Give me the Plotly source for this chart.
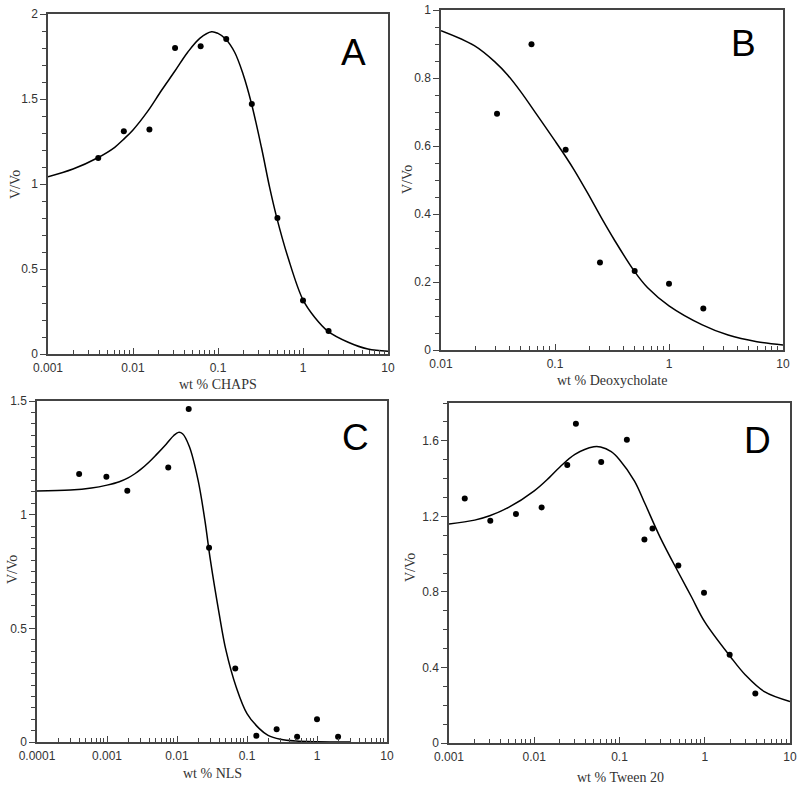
import plotly.graph_objects as go

W, H = 800, 787

# ---------------- data ----------------
# Panel A: CHAPS
a_x = [0.0039, 0.0078, 0.0156, 0.03125, 0.0625, 0.125, 0.25, 0.5, 1.0, 2.0]
a_y = [1.153, 1.31, 1.32, 1.80, 1.81, 1.853, 1.47, 0.80, 0.314, 0.135]
a_fit_x = [0.001, 0.00197, 0.0038, 0.0061, 0.0076, 0.01, 0.015, 0.0216, 0.031, 0.044, 0.061, 0.084,
           0.1, 0.123, 0.157, 0.197, 0.247, 0.324, 0.405, 0.49, 0.665, 1.0, 1.37, 1.97, 3.4, 5.8, 10.0]
a_fit_y = [1.043, 1.088, 1.153, 1.216, 1.259, 1.318, 1.43, 1.55, 1.663, 1.775, 1.857, 1.896,
           1.886, 1.853, 1.775, 1.647, 1.475, 1.216, 0.98, 0.804, 0.569, 0.318, 0.216, 0.133, 0.069, 0.029, 0.016]

# Panel B: Deoxycholate
b_x = [0.031, 0.0622, 0.124, 0.248, 0.5, 1.0, 2.0]
b_y = [0.695, 0.899, 0.589, 0.257, 0.232, 0.195, 0.122]
b_fit_x = [0.01, 0.0196, 0.03, 0.0384, 0.05, 0.07, 0.1, 0.125, 0.147, 0.193, 0.254, 0.33, 0.496, 0.65,
           1.0, 1.96, 3.3, 5.9, 10.0]
b_fit_y = [0.939, 0.895, 0.846, 0.809, 0.76, 0.69, 0.615, 0.567, 0.53, 0.462, 0.39, 0.325, 0.232, 0.183,
           0.13, 0.074, 0.044, 0.0245, 0.015]

# Panel C: NLS
c_x = [0.0004, 0.00098, 0.00195, 0.0075, 0.0147, 0.0287, 0.068, 0.136, 0.265, 0.52, 1.0, 2.0]
c_y = [1.179, 1.167, 1.105, 1.208, 1.465, 0.854, 0.323, 0.028, 0.056, 0.0235, 0.10, 0.0235]
c_fit_x = [0.0001, 0.0003, 0.0006, 0.001, 0.0015, 0.002, 0.0025, 0.003, 0.004, 0.005, 0.007, 0.009,
           0.0105, 0.012, 0.015, 0.02, 0.025, 0.03, 0.04, 0.05, 0.07, 0.1, 0.15, 0.2, 0.3, 0.5, 1.0, 3.0]
c_fit_y = [1.104, 1.108, 1.117, 1.13, 1.145, 1.162, 1.18, 1.198, 1.232, 1.262, 1.31, 1.348,
           1.362, 1.356, 1.30, 1.152, 0.976, 0.80, 0.565, 0.404, 0.242, 0.125, 0.059, 0.029, 0.012, 0.004, 0.001, 0.0]

# Panel D: Tween 20
d_x = [0.00153, 0.00305, 0.0061, 0.0122, 0.0244, 0.0308, 0.061, 0.122, 0.196, 0.244, 0.49, 0.98, 1.96, 3.92]
d_y = [1.294, 1.177, 1.212, 1.247, 1.472, 1.69, 1.488, 1.605, 1.077, 1.135, 0.94, 0.796, 0.467, 0.262]
d_fit_x = [0.001, 0.002, 0.003, 0.005, 0.01, 0.015, 0.02, 0.03, 0.05, 0.06, 0.08, 0.1, 0.15,
           0.2, 0.3, 0.5, 0.7, 1.0, 2.0, 3.0, 5.0, 10.0]
d_fit_y = [1.159, 1.18, 1.203, 1.247, 1.335, 1.405, 1.461, 1.528, 1.568, 1.567, 1.542, 1.50, 1.387,
           1.265, 1.089, 0.896, 0.773, 0.641, 0.457, 0.36, 0.272, 0.22]

log_tick_vals = [0.0001, 0.001, 0.01, 0.1, 1, 10]
log_tick_text = ["0.0001", "0.001", "0.01", "0.1", "1", "10"]

panels = [
    # letter, xs, ys, fx, fy, xrange(log), yrange, ydtick, yminor, xtitle, domain px (l, r, t, b)
    ("A", a_x, a_y, a_fit_x, a_fit_y, (-3, 1), (0, 2), 0.5, 0.1, "wt % CHAPS", (48, 388, 14, 354)),
    ("B", b_x, b_y, b_fit_x, b_fit_y, (-2, 1), (0, 1), 0.2, 0.05, "wt % Deoxycholate", (441, 783, 10, 350)),
    ("C", c_x, c_y, c_fit_x, c_fit_y, (-4, 1), (0, 1.5), 0.5, 0.05, "wt % NLS", (37, 387, 401, 742)),
    ("D", d_x, d_y, d_fit_x, d_fit_y, (-3, 1), (0, 1.8), 0.4, 0.1, "wt % Tween 20", (449, 790, 403, 743)),
]

fig = go.Figure()
annotations = []

AXCOL = "#444444"
TXTCOL = "#333333"
SERIF = "Liberation Serif, Times New Roman, serif"
SANS = "Liberation Sans, Arial, sans-serif"

for i, (letter, xs, ys, fx, fy, xr, yr, ydt, ymin, xtitle, (l, r, t, b)) in enumerate(panels):
    n = "" if i == 0 else str(i + 1)
    nm = str(i + 5)
    xa, ya = "x" + n, "y" + n
    fig.add_trace(go.Scatter(x=fx, y=fy, mode="lines", line=dict(color="black", width=1.5, shape="spline", smoothing=1.0),
                             xaxis=xa, yaxis=ya, showlegend=False, hoverinfo="skip"))
    fig.add_trace(go.Scatter(x=xs, y=ys, mode="markers", marker=dict(color="black", size=6),
                             xaxis=xa, yaxis=ya, showlegend=False))
    minor_vals = []
    for e in range(xr[0], xr[1]):
        for k in range(2, 10):
            minor_vals.append(k * 10.0 ** e)
    tv = [v for v in log_tick_vals if 10 ** xr[0] * 0.999 <= v <= 10 ** xr[1] * 1.001]
    tt = [log_tick_text[log_tick_vals.index(v)] for v in tv]
    fig.update_layout(**{
        ("xaxis" + n): dict(
            type="log", range=list(xr), domain=[l / W, r / W], anchor=ya, automargin=False,
            tickmode="array", tickvals=tv, ticktext=tt,
            ticks="inside", ticklen=6, tickwidth=1.2, tickcolor=AXCOL,
            ticklabelstandoff=2,
            showline=True, linecolor=AXCOL, linewidth=1.5, mirror=True,
            showgrid=False, zeroline=False,
            tickfont=dict(family=SANS, size=12, color=TXTCOL),
        ),
        ("xaxis" + nm): dict(
            type="log", range=list(xr), domain=[l / W, r / W], anchor=ya, overlaying=xa, automargin=False,
            tickmode="array", tickvals=minor_vals, ticktext=[""] * len(minor_vals), showticklabels=False,
            ticks="inside", ticklen=4, tickwidth=1.1, tickcolor=AXCOL,
            showline=False, showgrid=False, zeroline=False,
        ),
        ("yaxis" + n): dict(
            range=list(yr), domain=[1 - b / H, 1 - t / H], anchor=xa, automargin=False,
            tickmode="linear", tick0=0, dtick=ydt,
            ticks="outside", ticklen=6, tickwidth=1.2, tickcolor=AXCOL,
            minor=dict(tick0=0, dtick=ymin, ticks="outside", ticklen=4, tickwidth=1.1, tickcolor=AXCOL),
            showline=True, linecolor=AXCOL, linewidth=1.5, mirror=True,
            showgrid=False, zeroline=False,
            tickfont=dict(family=SANS, size=12, color=TXTCOL),
        ),
    })
    # invisible trace to keep the minor-tick overlay axis alive
    fig.add_trace(go.Scatter(x=[10 ** xr[0]], y=[yr[0]], mode="markers", marker=dict(opacity=0),
                             xaxis="x" + nm, yaxis=ya, showlegend=False, hoverinfo="skip"))

def pap(px, py):
    return px / W, 1 - py / H

label_pos = {"A": (353, 52), "B": (743, 43), "C": (355, 437), "D": (757, 440)}
ytitle_pos = {"A": (15, 185), "B": (408, 180), "C": (12, 570), "D": (410, 567)}
xtitle_pos = {"A": (218, 384), "B": (612, 380), "C": (212, 773), "D": (620, 777)}

for p in panels:
    letter, xt = p[0], p[9]
    x, y = pap(*label_pos[letter])
    annotations.append(dict(x=x, y=y, xref="paper", yref="paper", text=letter, showarrow=False,
                            font=dict(family=SANS, size=37, color="black"), xanchor="center", yanchor="middle"))
    x, y = pap(*ytitle_pos[letter])
    annotations.append(dict(x=x, y=y, xref="paper", yref="paper", text="V/Vo", showarrow=False, textangle=-90,
                            font=dict(family=SERIF, size=14, color=TXTCOL), xanchor="center", yanchor="middle"))
    x, y = pap(*xtitle_pos[letter])
    annotations.append(dict(x=x, y=y, xref="paper", yref="paper", text=xt, showarrow=False,
                            font=dict(family=SERIF, size=14, color=TXTCOL), xanchor="center", yanchor="middle"))

fig.update_layout(width=W, height=H, margin=dict(l=0, r=0, t=0, b=0, autoexpand=False),
                  paper_bgcolor="white", plot_bgcolor="white", annotations=annotations)

fig.write_html("out.html", config={"displayModeBar": False},
               post_script="document.body.style.margin='0px';document.body.style.overflow='hidden';")
